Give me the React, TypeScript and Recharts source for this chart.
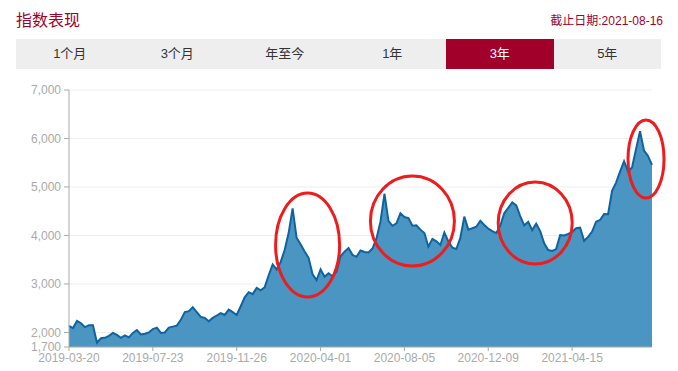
import { Area, AreaChart, CartesianGrid, ReferenceDot, XAxis, YAxis } from "recharts";

// close values, one every 4 trading days from 2019-03-20
const closes = [
  2134, 2090, 2240, 2190, 2110, 2150, 2150, 1790, 1880, 1890,
  1930, 1990, 1948, 1890, 1940, 1900, 1990, 2050, 1960, 1975,
  2000, 2070, 2100, 1990, 2000, 2100, 2120, 2140, 2260, 2420,
  2440, 2520, 2420, 2320, 2300, 2230, 2300, 2350, 2400, 2361,
  2470, 2420, 2360, 2540, 2725, 2830, 2790, 2920, 2870, 2930,
  3180, 3400, 3300, 3450, 3700, 4050, 4560, 3950, 3820, 3670,
  3540, 3200, 3080, 3300, 3150, 3220, 3160, 3250, 3570, 3666,
  3740, 3600, 3560, 3690, 3660, 3650, 3730, 3940, 4285, 4860,
  4300, 4200, 4250, 4457, 4380, 4360, 4200, 4210, 4120, 4050,
  3769, 3930, 3880, 3804, 4060, 3880, 3750, 3720, 3950, 4388,
  4120, 4148, 4180, 4300, 4216, 4140, 4090, 4050, 4200, 4457,
  4570, 4680, 4620, 4400, 4210, 4280, 4110, 4240, 4090, 3839,
  3700, 3680, 3720, 4010, 4000, 4030, 4070, 4150, 4160, 3890,
  3970, 4080, 4285, 4320, 4440, 4437, 4920, 5090, 5316, 5530,
  5320, 5400, 5780, 6150, 5750, 5640, 5454,
];
const dayStep = 4;

const xTicks = [0, 84, 168, 252, 336, 420, 504];
const xTickLabels = [
  "2019-03-20", "2019-07-23", "2019-11-26", "2020-04-01",
  "2020-08-05", "2020-12-09", "2021-04-15",
];
const yTicks = [1700, 2000, 3000, 4000, 5000, 6000, 7000];

const tabs = ["1个月", "3个月", "年至今", "1年", "3年", "5年"];
const activeTab = "3年";

// highlighted zones: [day, value, rx, ry]
const circles = [
  [239, 3804, 32, 52],
  [344, 4299, 42, 45],
  [467, 4258, 37, 41],
  [578, 5577, 18, 39],
];

const data = closes.map((v, i) => ({ day: i * dayStep, close: v }));

const RED = "#a0002a";
const FONT = "Arial, 'Liberation Sans', 'Noto Sans CJK SC', sans-serif";

export default function App() {
  return (
    <div
      style={{
        position: "absolute",
        left: 0,
        top: 0,
        width: 678,
        height: 371,
        background: "#fff",
        fontFamily: FONT,
      }}
    >
      <div
        style={{
          position: "absolute",
          left: 16,
          top: 7,
          fontSize: 16,
          color: RED,
          fontFamily: "'Noto Sans CJK SC', sans-serif",
        }}
      >
        指数表现
      </div>
      <div
        style={{
          position: "absolute",
          right: 15,
          top: 11,
          fontSize: 12,
          color: RED,
        }}
      >
        截止日期:2021-08-16
      </div>

      <div
        style={{
          position: "absolute",
          left: 16,
          top: 39,
          width: 645,
          height: 30,
          display: "flex",
          background: "#eeeeee",
        }}
      >
        {tabs.map((t) => (
          <div
            key={t}
            style={{
              flex: 1,
              lineHeight: "30px",
              textAlign: "center",
              fontSize: 13,
              color: t === activeTab ? "#fff" : "#333",
              background: t === activeTab ? RED : "transparent",
            }}
          >
            {t}
          </div>
        ))}
      </div>

      <div style={{ position: "absolute", left: 0, top: 0 }}>
        <AreaChart
          width={678}
          height={371}
          data={data}
          margin={{ top: 90, right: 26, left: 0, bottom: 4 }}
        >
          <CartesianGrid vertical={false} stroke="#eeeeee" />
          <XAxis
            dataKey="day"
            type="number"
            domain={[0, 584]}
            ticks={xTicks}
            tickFormatter={(v) => xTickLabels[xTicks.indexOf(v)] ?? ""}
            height={20}
            tickSize={4}
            tickMargin={2}
            tick={{ fill: "#aaaaaa", fontSize: 12 }}
            axisLine={{ stroke: "#aaaaaa" }}
            tickLine={{ stroke: "#aaaaaa" }}
          />
          <YAxis
            width={69}
            domain={[1700, 7000]}
            ticks={yTicks}
            interval={0}
            tickFormatter={(v) => Number(v).toLocaleString("en-US")}
            tickSize={5}
            tickMargin={3}
            tick={{ fill: "#aaaaaa", fontSize: 12 }}
            axisLine={{ stroke: "#aaaaaa" }}
            tickLine={{ stroke: "#aaaaaa" }}
          />
          <Area
            type="linear"
            dataKey="close"
            stroke="#0f64a0"
            strokeWidth={2}
            fill="#4a95c1"
            fillOpacity={1}
            baseValue={1700}
            dot={false}
            isAnimationActive={false}
          />
          {circles.map(([d, v, rx, ry]) => (
            <ReferenceDot
              key={d}
              x={d}
              y={v}
              shape={(p: any) => (
                <ellipse
                  cx={p.cx}
                  cy={p.cy}
                  rx={rx}
                  ry={ry}
                  fill="none"
                  stroke="#ee1c1c"
                  strokeWidth={3}
                />
              )}
            />
          ))}
        </AreaChart>
      </div>
    </div>
  );
}
